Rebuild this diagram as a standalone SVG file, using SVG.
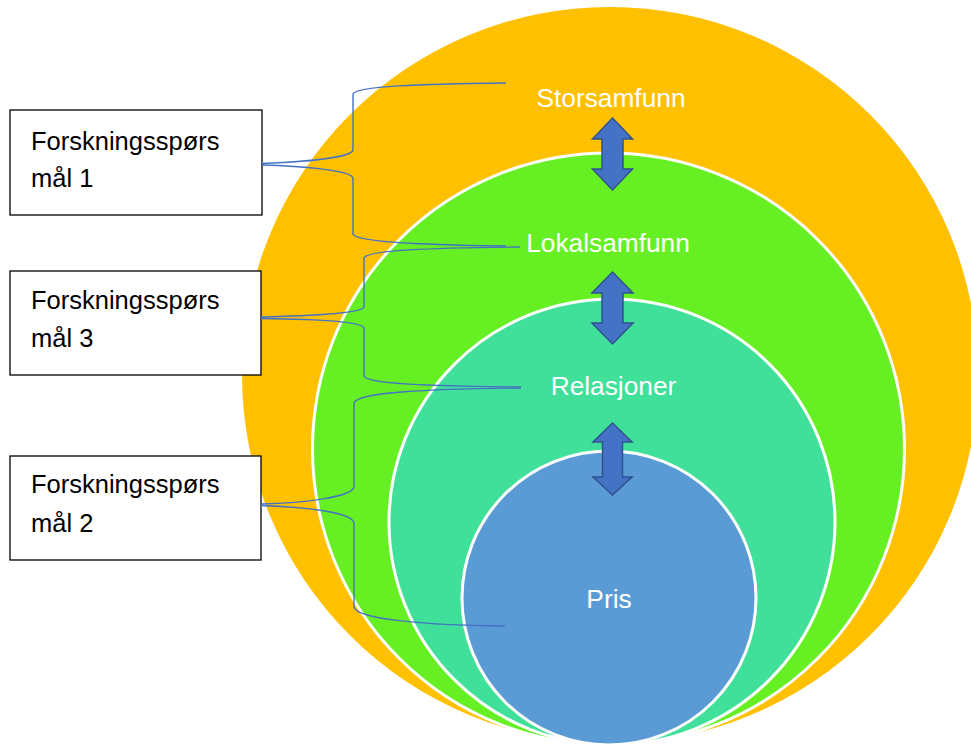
<svg xmlns="http://www.w3.org/2000/svg" width="971" height="746" viewBox="0 0 971 746">
<style>
.ring{stroke:#FFFFFF;stroke-width:3}
.lbl{font-family:"Liberation Sans",Arial,sans-serif;font-size:26.3px;fill:#FFFFFF;text-anchor:middle}
.box{fill:#FFFFFF;stroke:#000000;stroke-width:1.3}
.btxt{font-family:"Liberation Sans",Arial,sans-serif;font-size:25.5px;fill:#000000}
.brace{fill:none;stroke:#4472C4;stroke-width:1.4}
.arr{fill:#4472C4;stroke:#2F528F;stroke-width:1.5;stroke-linejoin:miter}
</style>
<rect width="971" height="746" fill="#FFFFFF"/>
<g id="storsamfunn">
<circle cx="610" cy="375" r="368" fill="#FFC000"/>
<text class="lbl" x="611" y="107">Storsamfunn</text>
</g>
<g id="lokalsamfunn">
<circle class="ring" cx="608.5" cy="449" r="296" fill="#66F023"/>
<text class="lbl" x="608" y="252">Lokalsamfunn</text>
</g>
<g id="relasjoner">
<circle class="ring" cx="612" cy="522" r="223" fill="#40E09A"/>
<text class="lbl" x="613.5" y="395">Relasjoner</text>
</g>
<g id="pris">
<circle class="ring" cx="609" cy="598" r="147" fill="#5B9BD5"/>
<text class="lbl" x="609" y="608">Pris</text>
</g>
<g id="box1">
<rect class="box" x="10" y="110" width="252" height="105"/>
<text class="btxt" x="31" y="150">Forskningsspørs</text>
<text class="btxt" x="31" y="187">mål 1</text>
</g>
<g id="box3">
<rect class="box" x="10" y="271" width="251" height="104"/>
<text class="btxt" x="31" y="309">Forskningsspørs</text>
<text class="btxt" x="31" y="347">mål 3</text>
</g>
<g id="box2">
<rect class="box" x="10" y="456" width="251" height="104"/>
<text class="btxt" x="31" y="493">Forskningsspørs</text>
<text class="btxt" x="31" y="532">mål 2</text>
</g>
<g id="connectors">
<path class="brace" d="M506 83 C420 84 356 86 353 94 L353 150 C351 158 300 162 262 163.5 M262 165 C300 166 351 170 353 178 L353 234 C355 242 420 245 506 246"/>
<path class="brace" d="M520 247 C430 248 367 250 364 258 L364 307 C362 314 305 316 261 317 M261 318.5 C305 319 362 321 364 328 L364 376 C367 384 430 386 521 387"/>
<path class="brace" d="M521 388 C430 389 357 392 354 403 L354 487 C352 497 305 503 261 504 M261 505.5 C305 507 352 512 354 523 L354 607 C357 619 420 625 505 626"/>
<path class="arr" d="M612.5 118 L632.5 139 L623 139 L623 169 L632.5 169 L612.5 190 L592.5 169 L602 169 L602 139 L592.5 139 Z"/>
<path class="arr" d="M612.5 272 L633 293 L623 293 L623 323 L633 323 L612.5 344 L592 323 L602 323 L602 293 L592 293 Z"/>
<path class="arr" d="M612.5 423 L632 442 L622.5 442 L622.5 477 L632 477 L612.5 495 L593 477 L602.5 477 L602.5 442 L593 442 Z"/>
</g>
</svg>
